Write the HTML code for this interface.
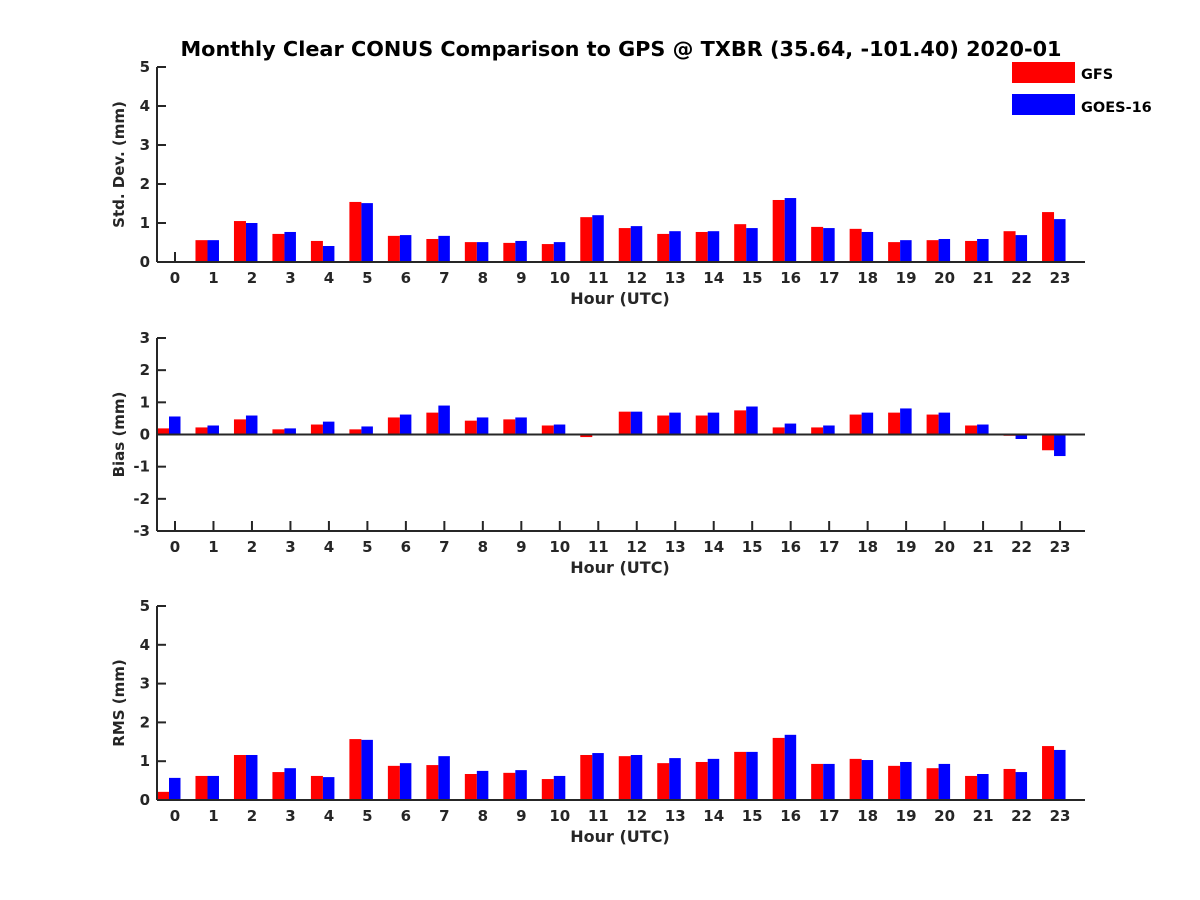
<!DOCTYPE html>
<html><head><meta charset="utf-8"><style>body{margin:0;background:#fff}svg{display:block}text{font-family:"DejaVu Sans","Liberation Sans",sans-serif;font-weight:bold;fill:#262626}</style></head>
<body>
<svg id="chart" width="1200" height="900" xmlns="http://www.w3.org/2000/svg">
<text x="621" y="56" font-size="20.8" text-anchor="middle" style="fill:#000">Monthly Clear CONUS Comparison to GPS @ TXBR (35.64, -101.40) 2020-01</text>
<g>
<rect x="1012" y="62" width="63" height="21" fill="#ff0000"/>
<text x="1081" y="79" font-size="14.5" style="fill:#000">GFS</text>
<rect x="1012" y="94" width="63" height="21" fill="#0000ff"/>
<text x="1081" y="112" font-size="14.5" style="fill:#000">GOES-16</text>
</g>
</svg>
<script>
const hours=[0,1,2,3,4,5,6,7,8,9,10,11,12,13,14,15,16,17,18,19,20,21,22,23];
const stdGFS=[0,0.56,1.05,0.72,0.54,1.54,0.67,0.59,0.51,0.49,0.46,1.15,0.87,0.72,0.77,0.97,1.59,0.9,0.85,0.51,0.56,0.54,0.79,1.28];
const stdGOES=[0,0.56,1.0,0.77,0.41,1.51,0.69,0.67,0.51,0.54,0.51,1.2,0.92,0.79,0.79,0.87,1.64,0.87,0.77,0.56,0.59,0.59,0.69,1.1];
const biasGFS=[0.19,0.22,0.47,0.16,0.31,0.16,0.53,0.68,0.43,0.47,0.28,-0.08,0.71,0.59,0.59,0.75,0.22,0.22,0.62,0.68,0.62,0.28,-0.04,-0.49];
const biasGOES=[0.56,0.28,0.59,0.19,0.4,0.25,0.62,0.9,0.53,0.53,0.31,-0.03,0.71,0.68,0.68,0.87,0.34,0.28,0.68,0.81,0.68,0.31,-0.14,-0.67];
const rmsGFS=[0.21,0.62,1.16,0.72,0.62,1.57,0.88,0.9,0.67,0.7,0.54,1.16,1.13,0.95,0.98,1.24,1.6,0.93,1.06,0.88,0.82,0.62,0.8,1.39];
const rmsGOES=[0.57,0.62,1.16,0.82,0.59,1.55,0.95,1.13,0.75,0.77,0.62,1.21,1.16,1.08,1.06,1.24,1.68,0.93,1.03,0.98,0.93,0.67,0.72,1.29];
const stdTicks=[0,1,2,3,4,5], biasTicks=[-3,-2,-1,0,1,2,3], rmsTicks=[0,1,2,3,4,5];
const NS="http://www.w3.org/2000/svg", svg=document.getElementById('chart');
function mk(tag,attrs,parent){const e=document.createElementNS(NS,tag);for(const k in attrs)e.setAttribute(k,attrs[k]);(parent||svg).appendChild(e);return e;}
const X0=157,X1=1085;
function xPos(h){return 175+h*38.48;}
function panel(name,top,bottom,ticks,gfs,goes,ylabel){
  const g=mk('g',{});
  
  
  const lo=ticks[0],hi=ticks[ticks.length-1];
  const y=v=>bottom-(v-lo)/(hi-lo)*(bottom-top);
  const y0=y(Math.max(lo,0));
  hours.forEach(h=>mk('line',{x1:xPos(h),y1:bottom,x2:xPos(h),y2:bottom-10,stroke:'#262626','stroke-width':2},g));
  hours.forEach((h,i)=>{
    const cx=xPos(h);
    const r=mk('rect',{x:cx-18,y:Math.min(y(gfs[i]),y0),width:12,height:Math.abs(y(gfs[i])-y0),fill:'#ff0000'},g);
    
    
    const b=mk('rect',{x:cx-6,y:Math.min(y(goes[i]),y0),width:11.5,height:Math.abs(y(goes[i])-y0),fill:'#0000ff'},g);
    
    
  });
  mk('line',{x1:X0,y1:top,x2:X0,y2:bottom,stroke:'#262626','stroke-width':2},g);
  mk('line',{x1:X0,y1:y0,x2:X1,y2:y0,stroke:'#262626','stroke-width':2},g);
  if(y0!==bottom) mk('line',{x1:X0,y1:bottom,x2:X1,y2:bottom,stroke:'#262626','stroke-width':2},g);
  ticks.forEach(t=>{
    mk('line',{x1:X0,y1:y(t),x2:X0+9,y2:y(t),stroke:'#262626','stroke-width':2},g);
    const tt=mk('text',{x:X0-7,y:y(t)+5,'font-size':15,'text-anchor':'end'},g);tt.textContent=t;
    
    
  });
  hours.forEach(h=>{
    const tt=mk('text',{x:xPos(h),y:bottom+21,'font-size':15,'text-anchor':'middle'},g);tt.textContent=h;
    
    
  });
  const xl=mk('text',{x:620,y:bottom+42,'font-size':16,'text-anchor':'middle'},g);xl.textContent='Hour (UTC)';
  
  
  const yc=(top+bottom)/2;
  const yl=mk('text',{x:0,y:0,'font-size':15,'text-anchor':'middle',transform:`translate(${X0-33},${yc}) rotate(-90)`},g);yl.textContent=ylabel;
  
  
}
panel('std-dev',67,262,stdTicks,stdGFS,stdGOES,'Std. Dev. (mm)');
panel('bias',338,531,biasTicks,biasGFS,biasGOES,'Bias (mm)');
panel('rms',606,800,rmsTicks,rmsGFS,rmsGOES,'RMS (mm)');
</script>
</body></html>
